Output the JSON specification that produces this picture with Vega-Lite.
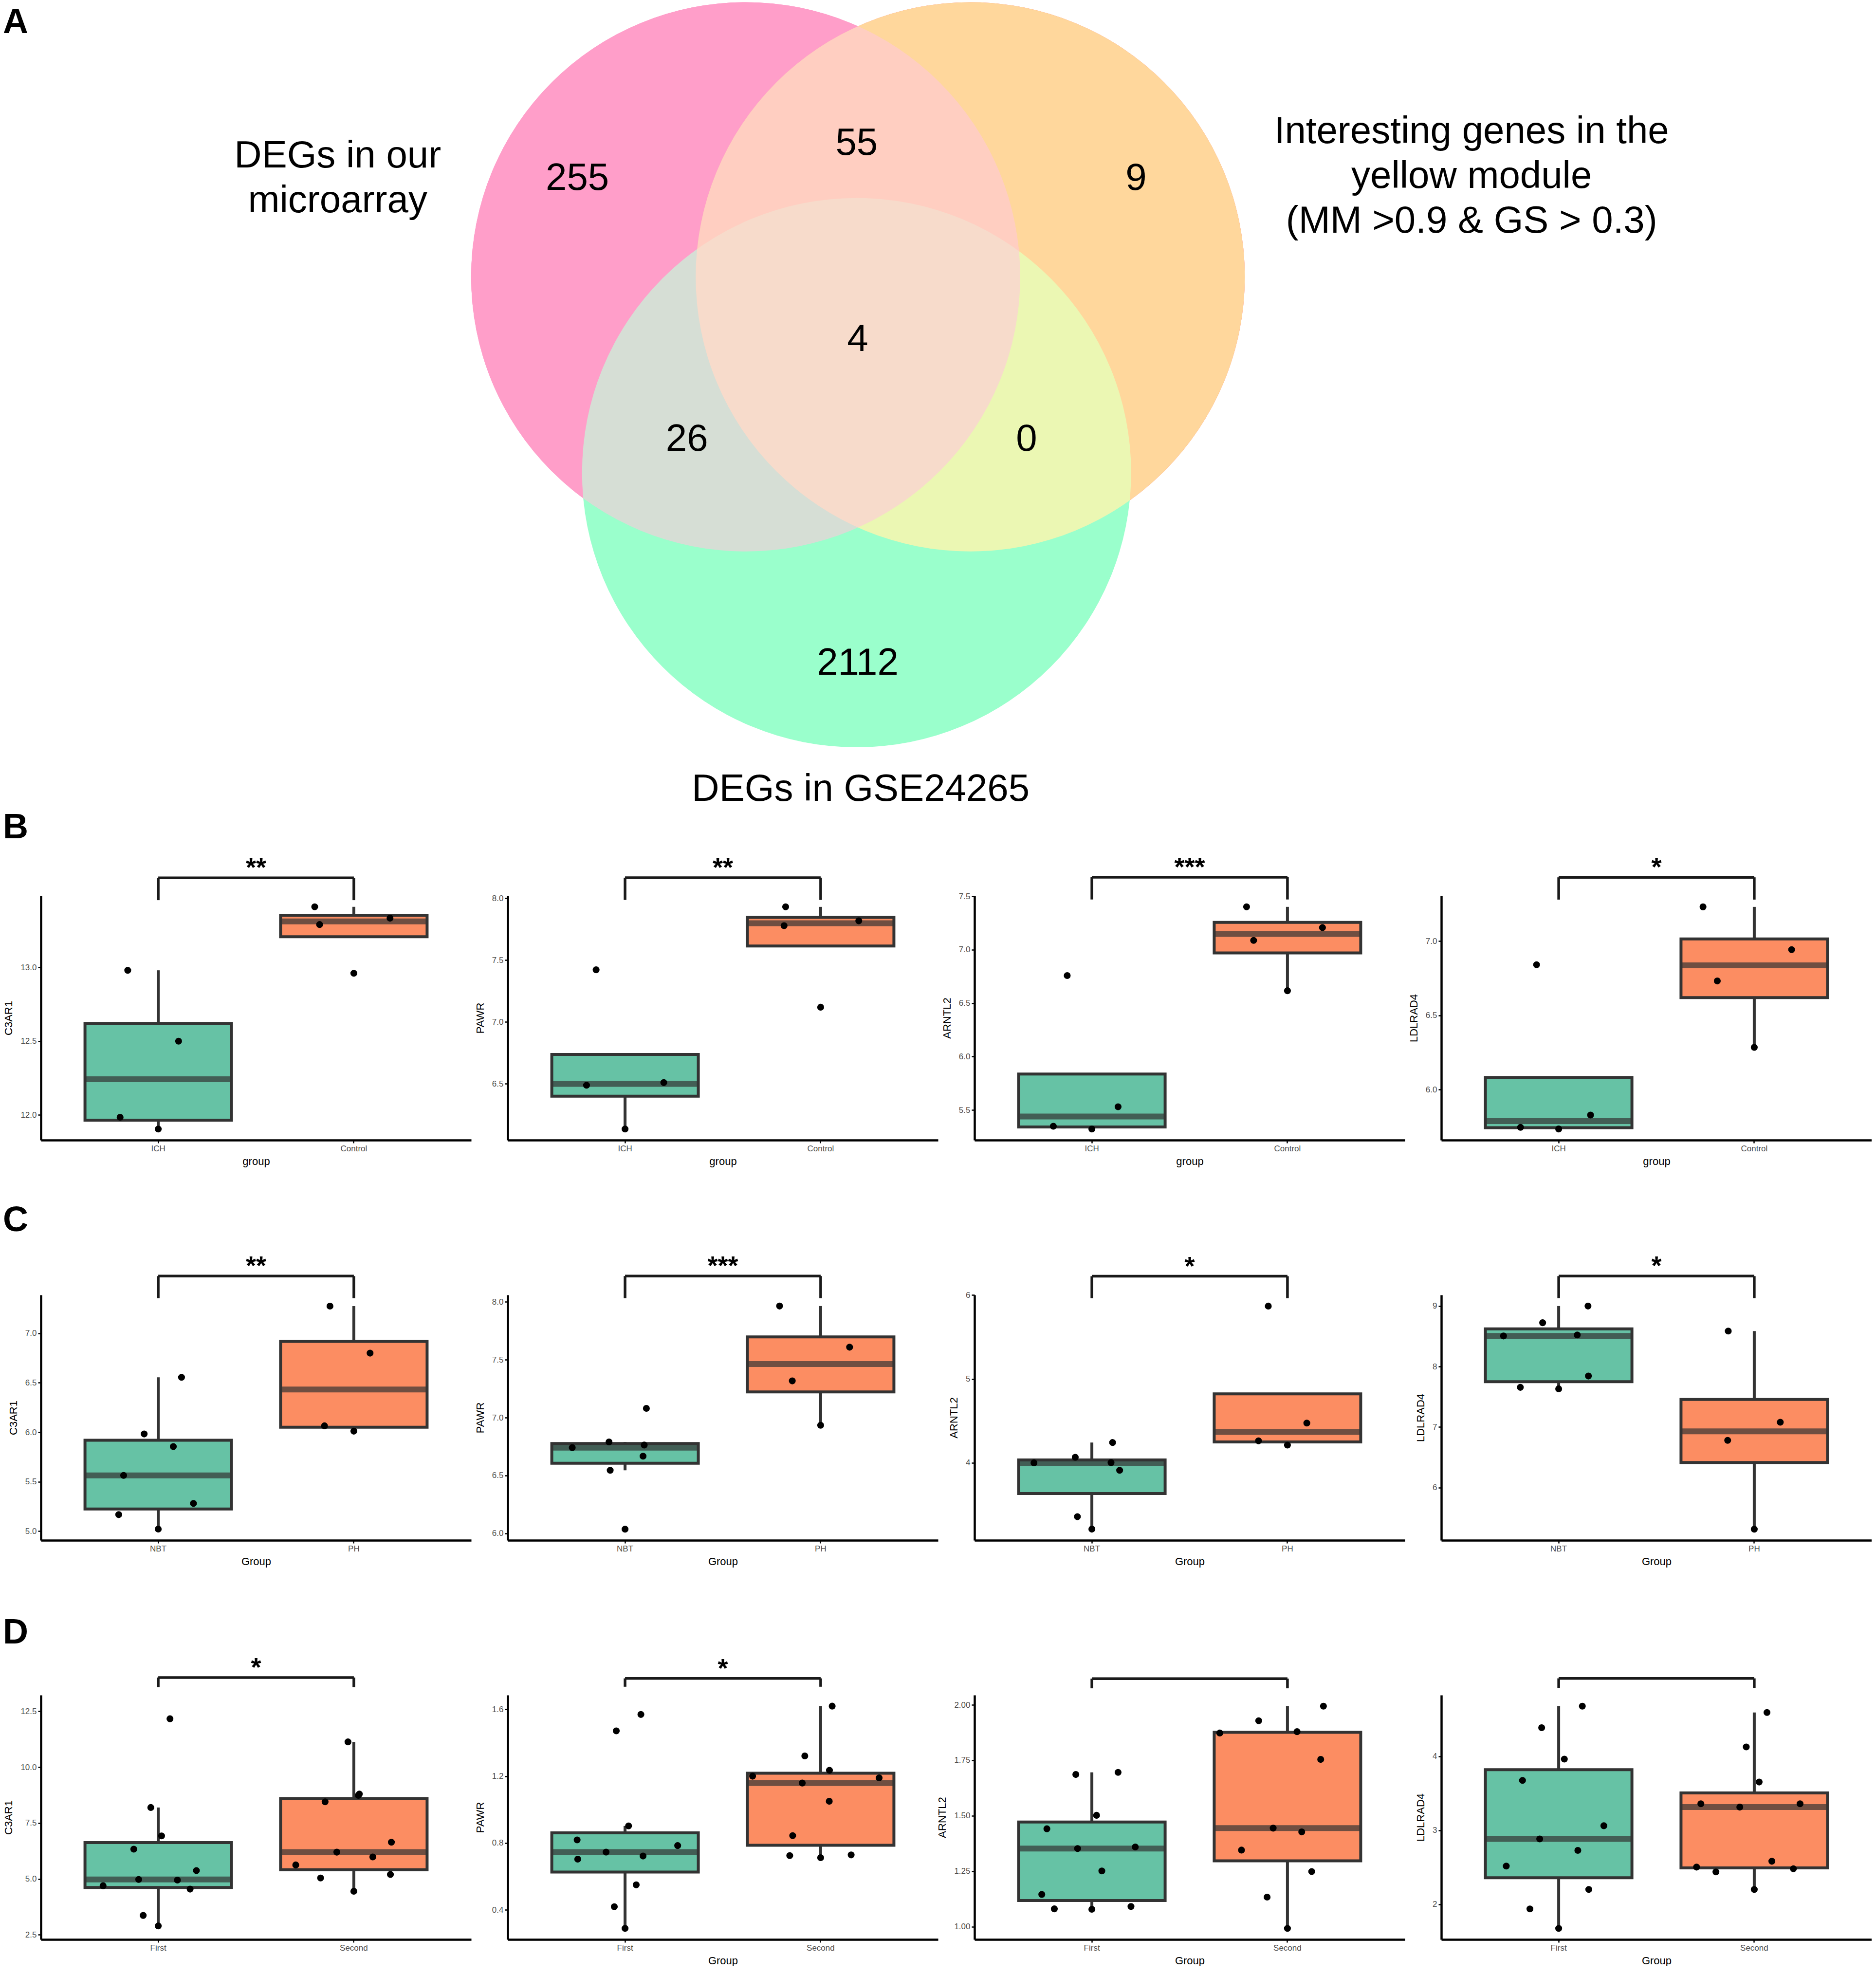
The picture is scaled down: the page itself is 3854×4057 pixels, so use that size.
{
"$schema":"https://vega.github.io/schema/vega-lite/v6.json",
"background":"white",
"padding":{"left":6,"top":0,"right":0,"bottom":0},
"config":{
 "font":"Liberation Sans",
 "view":{"stroke":null},
 "axis":{"grid":false,"domainColor":"black","domainWidth":4.5,"tickColor":"black","tickWidth":2.5,"tickSize":6,"labelColor":"#4D4D4D","labelFontSize":17,"labelPadding":3,"titleColor":"black","titleFontSize":22,"titleFontWeight":"normal"},
 "axisX":{"titlePadding":8},
 "axisY":{"titlePadding":12},
 "title":{"color":"black"}
},
"datasets":{
 "vc":[{"set":"pink","cx":-0.408,"cy":0.238},{"set":"yellow","cx":0.41,"cy":0.238},{"set":"green","cx":-0.004,"cy":-0.475}],
 "vt":[
  {"lab":"DEGs in our\nmicroarray","x":-1.894,"y":0.677},
  {"lab":"255","x":-1.021,"y":0.596},
  {"lab":"55","x":-0.004,"y":0.723},
  {"lab":"9","x":1.014,"y":0.596},
  {"lab":"4","x":0.0,"y":0.009},
  {"lab":"26","x":-0.622,"y":-0.355},
  {"lab":"0","x":0.615,"y":-0.355},
  {"lab":"2112","x":0.0,"y":-1.17},
  {"lab":"DEGs in GSE24265","x":0.011,"y":-1.63},
  {"lab":"Interesting genes in the\nyellow module\n(MM >0.9 & GS > 0.3)","x":2.236,"y":0.766}
 ],
 "pts":[
  {"p":"B1","g":"ICH","v":12.98,"j":-0.156},{"p":"B1","g":"ICH","v":12.5,"j":0.104},{"p":"B1","g":"ICH","v":11.985,"j":-0.195},{"p":"B1","g":"ICH","v":11.905,"j":0},
  {"p":"B1","g":"Control","v":13.41,"j":-0.2},{"p":"B1","g":"Control","v":13.29,"j":-0.175},{"p":"B1","g":"Control","v":13.333,"j":0.185},{"p":"B1","g":"Control","v":12.96,"j":0},
  {"p":"B2","g":"ICH","v":7.421,"j":-0.148},{"p":"B2","g":"ICH","v":6.488,"j":-0.197},{"p":"B2","g":"ICH","v":6.509,"j":0.198},{"p":"B2","g":"ICH","v":6.134,"j":0},
  {"p":"B2","g":"Control","v":7.93,"j":-0.179},{"p":"B2","g":"Control","v":7.778,"j":-0.187},{"p":"B2","g":"Control","v":7.817,"j":0.195},{"p":"B2","g":"Control","v":7.119,"j":0},
  {"p":"B3","g":"ICH","v":6.758,"j":-0.126},{"p":"B3","g":"ICH","v":5.53,"j":0.134},{"p":"B3","g":"ICH","v":5.348,"j":-0.197},{"p":"B3","g":"ICH","v":5.322,"j":0},
  {"p":"B3","g":"Control","v":7.401,"j":-0.209},{"p":"B3","g":"Control","v":7.087,"j":-0.173},{"p":"B3","g":"Control","v":7.207,"j":0.179},{"p":"B3","g":"Control","v":6.616,"j":0},
  {"p":"B4","g":"ICH","v":6.84,"j":-0.113},{"p":"B4","g":"ICH","v":5.828,"j":0.163},{"p":"B4","g":"ICH","v":5.745,"j":-0.195},{"p":"B4","g":"ICH","v":5.734,"j":0},
  {"p":"B4","g":"Control","v":7.23,"j":-0.262},{"p":"B4","g":"Control","v":6.942,"j":0.191},{"p":"B4","g":"Control","v":6.731,"j":-0.189},{"p":"B4","g":"Control","v":6.284,"j":0},
  {"p":"C1","g":"NBT","v":6.555,"j":0.119},{"p":"C1","g":"NBT","v":5.983,"j":-0.072},{"p":"C1","g":"NBT","v":5.855,"j":0.077},{"p":"C1","g":"NBT","v":5.564,"j":-0.177},{"p":"C1","g":"NBT","v":5.281,"j":0.18},{"p":"C1","g":"NBT","v":5.168,"j":-0.202},{"p":"C1","g":"NBT","v":5.022,"j":0},
  {"p":"C1","g":"PH","v":7.274,"j":-0.122},{"p":"C1","g":"PH","v":6.799,"j":0.083},{"p":"C1","g":"PH","v":6.065,"j":-0.15},{"p":"C1","g":"PH","v":6.011,"j":0},
  {"p":"C2","g":"NBT","v":7.08,"j":0.109},{"p":"C2","g":"NBT","v":6.79,"j":-0.082},{"p":"C2","g":"NBT","v":6.741,"j":-0.27},{"p":"C2","g":"NBT","v":6.763,"j":0.098},{"p":"C2","g":"NBT","v":6.667,"j":0.092},{"p":"C2","g":"NBT","v":6.545,"j":-0.076},{"p":"C2","g":"NBT","v":6.037,"j":0},
  {"p":"C2","g":"PH","v":7.963,"j":-0.21},{"p":"C2","g":"PH","v":7.608,"j":0.148},{"p":"C2","g":"PH","v":7.317,"j":-0.145},{"p":"C2","g":"PH","v":6.934,"j":0},
  {"p":"C3","g":"NBT","v":4.242,"j":0.106},{"p":"C3","g":"NBT","v":4.066,"j":-0.085},{"p":"C3","g":"NBT","v":4.0,"j":-0.296},{"p":"C3","g":"NBT","v":4.003,"j":0.098},{"p":"C3","g":"NBT","v":3.911,"j":0.142},{"p":"C3","g":"NBT","v":3.358,"j":-0.074},{"p":"C3","g":"NBT","v":3.21,"j":0},
  {"p":"C3","g":"PH","v":5.868,"j":-0.098},{"p":"C3","g":"PH","v":4.474,"j":0.099},{"p":"C3","g":"PH","v":4.262,"j":-0.148},{"p":"C3","g":"PH","v":4.211,"j":0},
  {"p":"C4","g":"NBT","v":9.0,"j":0.15},{"p":"C4","g":"NBT","v":8.724,"j":-0.082},{"p":"C4","g":"NBT","v":8.505,"j":-0.282},{"p":"C4","g":"NBT","v":8.522,"j":0.095},{"p":"C4","g":"NBT","v":7.843,"j":0.152},{"p":"C4","g":"NBT","v":7.656,"j":-0.196},{"p":"C4","g":"NBT","v":7.631,"j":0},
  {"p":"C4","g":"PH","v":8.586,"j":-0.133},{"p":"C4","g":"PH","v":7.079,"j":0.133},{"p":"C4","g":"PH","v":6.779,"j":-0.136},{"p":"C4","g":"PH","v":5.311,"j":0},
  {"p":"D1","g":"First","v":12.17,"j":0.06},{"p":"D1","g":"First","v":8.197,"j":-0.038},{"p":"D1","g":"First","v":6.926,"j":0.017},{"p":"D1","g":"First","v":6.332,"j":-0.125},{"p":"D1","g":"First","v":5.372,"j":0.195},{"p":"D1","g":"First","v":4.977,"j":-0.1},{"p":"D1","g":"First","v":4.948,"j":0.098},{"p":"D1","g":"First","v":4.694,"j":-0.282},{"p":"D1","g":"First","v":4.543,"j":0.163},{"p":"D1","g":"First","v":3.366,"j":-0.077},{"p":"D1","g":"First","v":2.896,"j":0},
  {"p":"D1","g":"Second","v":11.135,"j":-0.03},{"p":"D1","g":"Second","v":8.743,"j":0.023},{"p":"D1","g":"Second","v":8.8,"j":0.028},{"p":"D1","g":"Second","v":8.451,"j":-0.147},{"p":"D1","g":"Second","v":6.643,"j":0.192},{"p":"D1","g":"Second","v":6.2,"j":-0.087},{"p":"D1","g":"Second","v":5.984,"j":0.097},{"p":"D1","g":"Second","v":5.626,"j":-0.297},{"p":"D1","g":"Second","v":5.042,"j":-0.17},{"p":"D1","g":"Second","v":5.202,"j":0.187},{"p":"D1","g":"Second","v":4.449,"j":0},
  {"p":"D2","g":"First","v":1.569,"j":0.081},{"p":"D2","g":"First","v":1.471,"j":-0.045},{"p":"D2","g":"First","v":0.9025,"j":0.018},{"p":"D2","g":"First","v":0.819,"j":-0.245},{"p":"D2","g":"First","v":0.785,"j":0.269},{"p":"D2","g":"First","v":0.746,"j":-0.097},{"p":"D2","g":"First","v":0.7225,"j":0.092},{"p":"D2","g":"First","v":0.704,"j":-0.242},{"p":"D2","g":"First","v":0.55,"j":0.057},{"p":"D2","g":"First","v":0.419,"j":-0.055},{"p":"D2","g":"First","v":0.29,"j":0},
  {"p":"D2","g":"Second","v":1.619,"j":0.059},{"p":"D2","g":"Second","v":1.321,"j":-0.081},{"p":"D2","g":"Second","v":1.235,"j":0.045},{"p":"D2","g":"Second","v":1.2,"j":-0.348},{"p":"D2","g":"Second","v":1.19,"j":0.299},{"p":"D2","g":"Second","v":1.159,"j":-0.094},{"p":"D2","g":"Second","v":1.05,"j":0.044},{"p":"D2","g":"Second","v":0.844,"j":-0.143},{"p":"D2","g":"Second","v":0.725,"j":-0.158},{"p":"D2","g":"Second","v":0.7125,"j":0},{"p":"D2","g":"Second","v":0.729,"j":0.156},
  {"p":"D3","g":"First","v":1.6956,"j":0.134},{"p":"D3","g":"First","v":1.686,"j":-0.082},{"p":"D3","g":"First","v":1.502,"j":0.024},{"p":"D3","g":"First","v":1.441,"j":-0.23},{"p":"D3","g":"First","v":1.352,"j":-0.073},{"p":"D3","g":"First","v":1.359,"j":0.222},{"p":"D3","g":"First","v":1.251,"j":0.051},{"p":"D3","g":"First","v":1.145,"j":-0.256},{"p":"D3","g":"First","v":1.0905,"j":0.2},{"p":"D3","g":"First","v":1.08,"j":-0.192},{"p":"D3","g":"First","v":1.078,"j":0},
  {"p":"D3","g":"Second","v":1.994,"j":0.184},{"p":"D3","g":"Second","v":1.928,"j":-0.147},{"p":"D3","g":"Second","v":1.873,"j":-0.346},{"p":"D3","g":"Second","v":1.879,"j":0.049},{"p":"D3","g":"Second","v":1.754,"j":0.17},{"p":"D3","g":"Second","v":1.444,"j":-0.073},{"p":"D3","g":"Second","v":1.427,"j":0.073},{"p":"D3","g":"Second","v":1.345,"j":-0.235},{"p":"D3","g":"Second","v":1.248,"j":0.124},{"p":"D3","g":"Second","v":1.133,"j":-0.104},{"p":"D3","g":"Second","v":0.992,"j":0},
  {"p":"D4","g":"First","v":4.678,"j":0.121},{"p":"D4","g":"First","v":4.387,"j":-0.087},{"p":"D4","g":"First","v":3.963,"j":0.029},{"p":"D4","g":"First","v":3.675,"j":-0.185},{"p":"D4","g":"First","v":3.062,"j":0.231},{"p":"D4","g":"First","v":2.884,"j":-0.097},{"p":"D4","g":"First","v":2.729,"j":0.098},{"p":"D4","g":"First","v":2.517,"j":-0.268},{"p":"D4","g":"First","v":2.201,"j":0.154},{"p":"D4","g":"First","v":1.938,"j":-0.147},{"p":"D4","g":"First","v":1.675,"j":0},
  {"p":"D4","g":"Second","v":4.593,"j":0.065},{"p":"D4","g":"Second","v":4.127,"j":-0.041},{"p":"D4","g":"Second","v":3.653,"j":0.025},{"p":"D4","g":"Second","v":3.359,"j":-0.273},{"p":"D4","g":"Second","v":3.359,"j":0.234},{"p":"D4","g":"Second","v":3.314,"j":-0.074},{"p":"D4","g":"Second","v":2.582,"j":0.09},{"p":"D4","g":"Second","v":2.503,"j":-0.295},{"p":"D4","g":"Second","v":2.48,"j":0.2},{"p":"D4","g":"Second","v":2.438,"j":-0.196},{"p":"D4","g":"Second","v":2.201,"j":0}
 ],
 "sig":[
  {"p":"B1","x1":1,"x2":2,"xm":1.5,"yh":13.606,"yt":13.455,"lab":"**"},
  {"p":"B2","x1":1,"x2":2,"xm":1.5,"yh":8.166,"yt":7.986,"lab":"**"},
  {"p":"B3","x1":1,"x2":2,"xm":1.5,"yh":7.678,"yt":7.47,"lab":"***"},
  {"p":"B4","x1":1,"x2":2,"xm":1.5,"yh":7.429,"yt":7.279,"lab":"*"},
  {"p":"C1","x1":1,"x2":2,"xm":1.5,"yh":7.577,"yt":7.354,"lab":"**"},
  {"p":"C2","x1":1,"x2":2,"xm":1.5,"yh":8.222,"yt":8.031,"lab":"***"},
  {"p":"C3","x1":1,"x2":2,"xm":1.5,"yh":6.224,"yt":5.962,"lab":"*"},
  {"p":"C4","x1":1,"x2":2,"xm":1.5,"yh":9.495,"yt":9.131,"lab":"*"},
  {"p":"D1","x1":1,"x2":2,"xm":1.5,"yh":14.016,"yt":13.583,"lab":"*"},
  {"p":"D2","x1":1,"x2":2,"xm":1.5,"yh":1.785,"yt":1.735,"lab":"*"},
  {"p":"D3","x1":1,"x2":2,"xm":1.5,"yh":2.118,"yt":2.0745,"lab":""},
  {"p":"D4","x1":1,"x2":2,"xm":1.5,"yh":5.054,"yt":4.924,"lab":""}
 ]
},
"vconcat":[
 {"width":3761,"height":1544,
  "layer":[
   {"data":{"name":"vc"},"mark":{"type":"point","shape":"circle","filled":true,"opacity":1,"size":1272384,"strokeWidth":0},
    "encoding":{"x":{"field":"cx","type":"quantitative","scale":{"domain":[-2.975,3.693],"nice":false,"zero":false},"axis":null},
     "y":{"field":"cy","type":"quantitative","scale":{"domain":[-1.491,1.246],"nice":false,"zero":false},"axis":null},
     "color":{"field":"set","type":"nominal","scale":{"domain":["pink","yellow","green"],"range":["#FF5FAE","#FF5F5C","#9AFFCC"]},"legend":null}}},
   {"data":{"name":"vc"},"transform":[{"filter":"datum.set=='yellow'"}],"mark":{"type":"point","shape":"circle","filled":true,"color":"#FFF5AC","opacity":0.8,"size":1272384,"strokeWidth":0},
    "encoding":{"x":{"field":"cx","type":"quantitative","scale":{"domain":[-2.975,3.693],"nice":false,"zero":false},"axis":null},
     "y":{"field":"cy","type":"quantitative","scale":{"domain":[-1.491,1.246],"nice":false,"zero":false},"axis":null}}},
   {"data":{"name":"vc"},"transform":[{"filter":"datum.set=='pink'"}],"mark":{"type":"point","shape":"circle","filled":true,"color":"#FFC8DB","opacity":0.6,"size":1272384,"strokeWidth":0},
    "encoding":{"x":{"field":"cx","type":"quantitative","scale":{"domain":[-2.975,3.693],"nice":false,"zero":false},"axis":null},
     "y":{"field":"cy","type":"quantitative","scale":{"domain":[-1.491,1.246],"nice":false,"zero":false},"axis":null}}},
   {"data":{"name":"vt"},"mark":{"type":"text","fontSize":78,"lineBreak":"\n","lineHeight":92,"baseline":"middle","align":"center","color":"black"},
    "encoding":{"x":{"field":"x","type":"quantitative","scale":{"domain":[-2.975,3.693],"nice":false,"zero":false},"axis":null},
     "y":{"field":"y","type":"quantitative","scale":{"domain":[-1.491,1.246],"nice":false,"zero":false},"axis":null},
     "text":{"field":"lab"}}},
   {"data":{"values":[{"lab":"A","x":-3.067,"y":1.165}]},"mark":{"type":"text","fontSize":72,"fontWeight":"bold","baseline":"middle","align":"center","color":"black"},
    "encoding":{"x":{"field":"x","type":"quantitative","scale":{"domain":[-2.975,3.693],"nice":false,"zero":false},"axis":null},
     "y":{"field":"y","type":"quantitative","scale":{"domain":[-1.491,1.246],"nice":false,"zero":false},"axis":null},
     "text":{"field":"lab"}}}
  ]},
 {"concat":[
  {"width":884,"height":502,"resolve":{"scale":{"x":"independent"}},
   "title":{"text":"B","anchor":"start","frame":"group","fontSize":72,"fontWeight":"bold","align":"center","dx":-52,"offset":20},
   "layer":[
   {"data":{"name":"pts"},"transform":[{"filter":"datum.p=='B1'"}],"layer":[
    {"mark":{"type":"boxplot","extent":1.5,"outliers":false,"size":301,"box":{"stroke":"#333333","strokeWidth":6},"median":{"color":"#333333","thickness":12},"rule":{"color":"#333333","strokeWidth":6}},
     "encoding":{"x":{"field":"g","type":"nominal","scale":{"domain":["ICH","Control"],"paddingInner":0.25,"paddingOuter":0.225},"axis":{"title":"group","labelAngle":0}},
      "y":{"field":"v","type":"quantitative","scale":{"domain":[11.83,13.485],"nice":false,"zero":false},"axis":{"title":"C3AR1","values":[12,12.5,13],"format":".1f"}},
      "color":{"field":"g","type":"nominal","scale":{"domain":["ICH","Control"],"range":["#66C2A5","#FC8D62"]},"legend":null}}},
    {"mark":{"type":"point","filled":true,"color":"black","opacity":1,"size":200,"strokeWidth":0},
     "encoding":{"x":{"field":"g","type":"nominal","scale":{"domain":["ICH","Control"],"paddingInner":0.25,"paddingOuter":0.225},"axis":{"title":"group","labelAngle":0}},
      "xOffset":{"field":"j","type":"quantitative","scale":{"domain":[-0.375,0.375]}},
      "y":{"field":"v","type":"quantitative","scale":{"domain":[11.83,13.485],"nice":false,"zero":false},"axis":{"title":"C3AR1","values":[12,12.5,13],"format":".1f"}}}}]},
   {"data":{"name":"sig"},"transform":[{"filter":"datum.p=='B1'"}],
    "encoding":{"y":{"field":"yh","type":"quantitative","scale":{"domain":[11.83,13.485],"nice":false,"zero":false},"axis":{"title":"C3AR1","values":[12,12.5,13],"format":".1f"}}},
    "layer":[
     {"mark":{"type":"rule","color":"#1A1A1A","strokeWidth":5.5},"encoding":{"x":{"field":"x1","type":"quantitative","scale":{"domain":[0.4,2.6],"nice":false,"zero":false},"axis":null},"x2":{"field":"x2"}}},
     {"mark":{"type":"rule","color":"#1A1A1A","strokeWidth":5.5},"encoding":{"x":{"field":"x1","type":"quantitative","scale":{"domain":[0.4,2.6],"nice":false,"zero":false},"axis":null},"y2":{"field":"yt"}}},
     {"mark":{"type":"rule","color":"#1A1A1A","strokeWidth":5.5},"encoding":{"x":{"field":"x2","type":"quantitative","scale":{"domain":[0.4,2.6],"nice":false,"zero":false},"axis":null},"y2":{"field":"yt"}}},
     {"mark":{"type":"text","fontSize":54,"fontWeight":"bold","baseline":"alphabetic","dy":-3,"color":"black"},"encoding":{"x":{"field":"xm","type":"quantitative","scale":{"domain":[0.4,2.6],"nice":false,"zero":false},"axis":null},"text":{"field":"lab"}}}]}]},
  {"width":884,"height":502,"resolve":{"scale":{"x":"independent"}},"layer":[
   {"data":{"name":"pts"},"transform":[{"filter":"datum.p=='B2'"}],"layer":[
    {"mark":{"type":"boxplot","extent":1.5,"outliers":false,"size":301,"box":{"stroke":"#333333","strokeWidth":6},"median":{"color":"#333333","thickness":12},"rule":{"color":"#333333","strokeWidth":6}},
     "encoding":{"x":{"field":"g","type":"nominal","scale":{"domain":["ICH","Control"],"paddingInner":0.25,"paddingOuter":0.225},"axis":{"title":"group","labelAngle":0}},
      "y":{"field":"v","type":"quantitative","scale":{"domain":[6.044,8.02],"nice":false,"zero":false},"axis":{"title":"PAWR","values":[6.5,7,7.5,8],"format":".1f"}},
      "color":{"field":"g","type":"nominal","scale":{"domain":["ICH","Control"],"range":["#66C2A5","#FC8D62"]},"legend":null}}},
    {"mark":{"type":"point","filled":true,"color":"black","opacity":1,"size":200,"strokeWidth":0},
     "encoding":{"x":{"field":"g","type":"nominal","scale":{"domain":["ICH","Control"],"paddingInner":0.25,"paddingOuter":0.225},"axis":{"title":"group","labelAngle":0}},
      "xOffset":{"field":"j","type":"quantitative","scale":{"domain":[-0.375,0.375]}},
      "y":{"field":"v","type":"quantitative","scale":{"domain":[6.044,8.02],"nice":false,"zero":false},"axis":{"title":"PAWR","values":[6.5,7,7.5,8],"format":".1f"}}}}]},
   {"data":{"name":"sig"},"transform":[{"filter":"datum.p=='B2'"}],
    "encoding":{"y":{"field":"yh","type":"quantitative","scale":{"domain":[6.044,8.02],"nice":false,"zero":false},"axis":{"title":"PAWR","values":[6.5,7,7.5,8],"format":".1f"}}},
    "layer":[
     {"mark":{"type":"rule","color":"#1A1A1A","strokeWidth":5.5},"encoding":{"x":{"field":"x1","type":"quantitative","scale":{"domain":[0.4,2.6],"nice":false,"zero":false},"axis":null},"x2":{"field":"x2"}}},
     {"mark":{"type":"rule","color":"#1A1A1A","strokeWidth":5.5},"encoding":{"x":{"field":"x1","type":"quantitative","scale":{"domain":[0.4,2.6],"nice":false,"zero":false},"axis":null},"y2":{"field":"yt"}}},
     {"mark":{"type":"rule","color":"#1A1A1A","strokeWidth":5.5},"encoding":{"x":{"field":"x2","type":"quantitative","scale":{"domain":[0.4,2.6],"nice":false,"zero":false},"axis":null},"y2":{"field":"yt"}}},
     {"mark":{"type":"text","fontSize":54,"fontWeight":"bold","baseline":"alphabetic","dy":-3,"color":"black"},"encoding":{"x":{"field":"xm","type":"quantitative","scale":{"domain":[0.4,2.6],"nice":false,"zero":false},"axis":null},"text":{"field":"lab"}}}]}]},
  {"width":884,"height":502,"resolve":{"scale":{"x":"independent"}},"layer":[
   {"data":{"name":"pts"},"transform":[{"filter":"datum.p=='B3'"}],"layer":[
    {"mark":{"type":"boxplot","extent":1.5,"outliers":false,"size":301,"box":{"stroke":"#333333","strokeWidth":6},"median":{"color":"#333333","thickness":12},"rule":{"color":"#333333","strokeWidth":6}},
     "encoding":{"x":{"field":"g","type":"nominal","scale":{"domain":["ICH","Control"],"paddingInner":0.25,"paddingOuter":0.225},"axis":{"title":"group","labelAngle":0}},
      "y":{"field":"v","type":"quantitative","scale":{"domain":[5.218,7.505],"nice":false,"zero":false},"axis":{"title":"ARNTL2","values":[5.5,6,6.5,7,7.5],"format":".1f"}},
      "color":{"field":"g","type":"nominal","scale":{"domain":["ICH","Control"],"range":["#66C2A5","#FC8D62"]},"legend":null}}},
    {"mark":{"type":"point","filled":true,"color":"black","opacity":1,"size":200,"strokeWidth":0},
     "encoding":{"x":{"field":"g","type":"nominal","scale":{"domain":["ICH","Control"],"paddingInner":0.25,"paddingOuter":0.225},"axis":{"title":"group","labelAngle":0}},
      "xOffset":{"field":"j","type":"quantitative","scale":{"domain":[-0.375,0.375]}},
      "y":{"field":"v","type":"quantitative","scale":{"domain":[5.218,7.505],"nice":false,"zero":false},"axis":{"title":"ARNTL2","values":[5.5,6,6.5,7,7.5],"format":".1f"}}}}]},
   {"data":{"name":"sig"},"transform":[{"filter":"datum.p=='B3'"}],
    "encoding":{"y":{"field":"yh","type":"quantitative","scale":{"domain":[5.218,7.505],"nice":false,"zero":false},"axis":{"title":"ARNTL2","values":[5.5,6,6.5,7,7.5],"format":".1f"}}},
    "layer":[
     {"mark":{"type":"rule","color":"#1A1A1A","strokeWidth":5.5},"encoding":{"x":{"field":"x1","type":"quantitative","scale":{"domain":[0.4,2.6],"nice":false,"zero":false},"axis":null},"x2":{"field":"x2"}}},
     {"mark":{"type":"rule","color":"#1A1A1A","strokeWidth":5.5},"encoding":{"x":{"field":"x1","type":"quantitative","scale":{"domain":[0.4,2.6],"nice":false,"zero":false},"axis":null},"y2":{"field":"yt"}}},
     {"mark":{"type":"rule","color":"#1A1A1A","strokeWidth":5.5},"encoding":{"x":{"field":"x2","type":"quantitative","scale":{"domain":[0.4,2.6],"nice":false,"zero":false},"axis":null},"y2":{"field":"yt"}}},
     {"mark":{"type":"text","fontSize":54,"fontWeight":"bold","baseline":"alphabetic","dy":-3,"color":"black"},"encoding":{"x":{"field":"xm","type":"quantitative","scale":{"domain":[0.4,2.6],"nice":false,"zero":false},"axis":null},"text":{"field":"lab"}}}]}]},
  {"width":884,"height":502,"resolve":{"scale":{"x":"independent"}},"layer":[
   {"data":{"name":"pts"},"transform":[{"filter":"datum.p=='B4'"}],"layer":[
    {"mark":{"type":"boxplot","extent":1.5,"outliers":false,"size":301,"box":{"stroke":"#333333","strokeWidth":6},"median":{"color":"#333333","thickness":12},"rule":{"color":"#333333","strokeWidth":6}},
     "encoding":{"x":{"field":"g","type":"nominal","scale":{"domain":["ICH","Control"],"paddingInner":0.25,"paddingOuter":0.225},"axis":{"title":"group","labelAngle":0}},
      "y":{"field":"v","type":"quantitative","scale":{"domain":[5.659,7.305],"nice":false,"zero":false},"axis":{"title":"LDLRAD4","values":[6,6.5,7],"format":".1f"}},
      "color":{"field":"g","type":"nominal","scale":{"domain":["ICH","Control"],"range":["#66C2A5","#FC8D62"]},"legend":null}}},
    {"mark":{"type":"point","filled":true,"color":"black","opacity":1,"size":200,"strokeWidth":0},
     "encoding":{"x":{"field":"g","type":"nominal","scale":{"domain":["ICH","Control"],"paddingInner":0.25,"paddingOuter":0.225},"axis":{"title":"group","labelAngle":0}},
      "xOffset":{"field":"j","type":"quantitative","scale":{"domain":[-0.375,0.375]}},
      "y":{"field":"v","type":"quantitative","scale":{"domain":[5.659,7.305],"nice":false,"zero":false},"axis":{"title":"LDLRAD4","values":[6,6.5,7],"format":".1f"}}}}]},
   {"data":{"name":"sig"},"transform":[{"filter":"datum.p=='B4'"}],
    "encoding":{"y":{"field":"yh","type":"quantitative","scale":{"domain":[5.659,7.305],"nice":false,"zero":false},"axis":{"title":"LDLRAD4","values":[6,6.5,7],"format":".1f"}}},
    "layer":[
     {"mark":{"type":"rule","color":"#1A1A1A","strokeWidth":5.5},"encoding":{"x":{"field":"x1","type":"quantitative","scale":{"domain":[0.4,2.6],"nice":false,"zero":false},"axis":null},"x2":{"field":"x2"}}},
     {"mark":{"type":"rule","color":"#1A1A1A","strokeWidth":5.5},"encoding":{"x":{"field":"x1","type":"quantitative","scale":{"domain":[0.4,2.6],"nice":false,"zero":false},"axis":null},"y2":{"field":"yt"}}},
     {"mark":{"type":"rule","color":"#1A1A1A","strokeWidth":5.5},"encoding":{"x":{"field":"x2","type":"quantitative","scale":{"domain":[0.4,2.6],"nice":false,"zero":false},"axis":null},"y2":{"field":"yt"}}},
     {"mark":{"type":"text","fontSize":54,"fontWeight":"bold","baseline":"alphabetic","dy":-3,"color":"black"},"encoding":{"x":{"field":"xm","type":"quantitative","scale":{"domain":[0.4,2.6],"nice":false,"zero":false},"axis":null},"text":{"field":"lab"}}}]}]},
  {"width":884,"height":504,"resolve":{"scale":{"x":"independent"}},
   "title":{"text":"C","anchor":"start","frame":"group","fontSize":72,"fontWeight":"bold","align":"center","dx":-52,"offset":31},
   "layer":[
   {"data":{"name":"pts"},"transform":[{"filter":"datum.p=='C1'"}],"layer":[
    {"mark":{"type":"boxplot","extent":1.5,"outliers":false,"size":301,"box":{"stroke":"#333333","strokeWidth":6},"median":{"color":"#333333","thickness":12},"rule":{"color":"#333333","strokeWidth":6}},
     "encoding":{"x":{"field":"g","type":"nominal","scale":{"domain":["NBT","PH"],"paddingInner":0.25,"paddingOuter":0.225},"axis":{"title":"Group","labelAngle":0}},
      "y":{"field":"v","type":"quantitative","scale":{"domain":[4.909,7.387],"nice":false,"zero":false},"axis":{"title":"C3AR1","values":[5,5.5,6,6.5,7],"format":".1f"}},
      "color":{"field":"g","type":"nominal","scale":{"domain":["NBT","PH"],"range":["#66C2A5","#FC8D62"]},"legend":null}}},
    {"mark":{"type":"point","filled":true,"color":"black","opacity":1,"size":200,"strokeWidth":0},
     "encoding":{"x":{"field":"g","type":"nominal","scale":{"domain":["NBT","PH"],"paddingInner":0.25,"paddingOuter":0.225},"axis":{"title":"Group","labelAngle":0}},
      "xOffset":{"field":"j","type":"quantitative","scale":{"domain":[-0.375,0.375]}},
      "y":{"field":"v","type":"quantitative","scale":{"domain":[4.909,7.387],"nice":false,"zero":false},"axis":{"title":"C3AR1","values":[5,5.5,6,6.5,7],"format":".1f"}}}}]},
   {"data":{"name":"sig"},"transform":[{"filter":"datum.p=='C1'"}],
    "encoding":{"y":{"field":"yh","type":"quantitative","scale":{"domain":[4.909,7.387],"nice":false,"zero":false},"axis":{"title":"C3AR1","values":[5,5.5,6,6.5,7],"format":".1f"}}},
    "layer":[
     {"mark":{"type":"rule","color":"#1A1A1A","strokeWidth":5.5},"encoding":{"x":{"field":"x1","type":"quantitative","scale":{"domain":[0.4,2.6],"nice":false,"zero":false},"axis":null},"x2":{"field":"x2"}}},
     {"mark":{"type":"rule","color":"#1A1A1A","strokeWidth":5.5},"encoding":{"x":{"field":"x1","type":"quantitative","scale":{"domain":[0.4,2.6],"nice":false,"zero":false},"axis":null},"y2":{"field":"yt"}}},
     {"mark":{"type":"rule","color":"#1A1A1A","strokeWidth":5.5},"encoding":{"x":{"field":"x2","type":"quantitative","scale":{"domain":[0.4,2.6],"nice":false,"zero":false},"axis":null},"y2":{"field":"yt"}}},
     {"mark":{"type":"text","fontSize":54,"fontWeight":"bold","baseline":"alphabetic","dy":-3,"color":"black"},"encoding":{"x":{"field":"xm","type":"quantitative","scale":{"domain":[0.4,2.6],"nice":false,"zero":false},"axis":null},"text":{"field":"lab"}}}]}]},
  {"width":884,"height":504,"resolve":{"scale":{"x":"independent"}},"layer":[
   {"data":{"name":"pts"},"transform":[{"filter":"datum.p=='C2'"}],"layer":[
    {"mark":{"type":"boxplot","extent":1.5,"outliers":false,"size":301,"box":{"stroke":"#333333","strokeWidth":6},"median":{"color":"#333333","thickness":12},"rule":{"color":"#333333","strokeWidth":6}},
     "encoding":{"x":{"field":"g","type":"nominal","scale":{"domain":["NBT","PH"],"paddingInner":0.25,"paddingOuter":0.225},"axis":{"title":"Group","labelAngle":0}},
      "y":{"field":"v","type":"quantitative","scale":{"domain":[5.941,8.059],"nice":false,"zero":false},"axis":{"title":"PAWR","values":[6,6.5,7,7.5,8],"format":".1f"}},
      "color":{"field":"g","type":"nominal","scale":{"domain":["NBT","PH"],"range":["#66C2A5","#FC8D62"]},"legend":null}}},
    {"mark":{"type":"point","filled":true,"color":"black","opacity":1,"size":200,"strokeWidth":0},
     "encoding":{"x":{"field":"g","type":"nominal","scale":{"domain":["NBT","PH"],"paddingInner":0.25,"paddingOuter":0.225},"axis":{"title":"Group","labelAngle":0}},
      "xOffset":{"field":"j","type":"quantitative","scale":{"domain":[-0.375,0.375]}},
      "y":{"field":"v","type":"quantitative","scale":{"domain":[5.941,8.059],"nice":false,"zero":false},"axis":{"title":"PAWR","values":[6,6.5,7,7.5,8],"format":".1f"}}}}]},
   {"data":{"name":"sig"},"transform":[{"filter":"datum.p=='C2'"}],
    "encoding":{"y":{"field":"yh","type":"quantitative","scale":{"domain":[5.941,8.059],"nice":false,"zero":false},"axis":{"title":"PAWR","values":[6,6.5,7,7.5,8],"format":".1f"}}},
    "layer":[
     {"mark":{"type":"rule","color":"#1A1A1A","strokeWidth":5.5},"encoding":{"x":{"field":"x1","type":"quantitative","scale":{"domain":[0.4,2.6],"nice":false,"zero":false},"axis":null},"x2":{"field":"x2"}}},
     {"mark":{"type":"rule","color":"#1A1A1A","strokeWidth":5.5},"encoding":{"x":{"field":"x1","type":"quantitative","scale":{"domain":[0.4,2.6],"nice":false,"zero":false},"axis":null},"y2":{"field":"yt"}}},
     {"mark":{"type":"rule","color":"#1A1A1A","strokeWidth":5.5},"encoding":{"x":{"field":"x2","type":"quantitative","scale":{"domain":[0.4,2.6],"nice":false,"zero":false},"axis":null},"y2":{"field":"yt"}}},
     {"mark":{"type":"text","fontSize":54,"fontWeight":"bold","baseline":"alphabetic","dy":-3,"color":"black"},"encoding":{"x":{"field":"xm","type":"quantitative","scale":{"domain":[0.4,2.6],"nice":false,"zero":false},"axis":null},"text":{"field":"lab"}}}]}]},
  {"width":884,"height":504,"resolve":{"scale":{"x":"independent"}},"layer":[
   {"data":{"name":"pts"},"transform":[{"filter":"datum.p=='C3'"}],"layer":[
    {"mark":{"type":"boxplot","extent":1.5,"outliers":false,"size":301,"box":{"stroke":"#333333","strokeWidth":6},"median":{"color":"#333333","thickness":12},"rule":{"color":"#333333","strokeWidth":6}},
     "encoding":{"x":{"field":"g","type":"nominal","scale":{"domain":["NBT","PH"],"paddingInner":0.25,"paddingOuter":0.225},"axis":{"title":"Group","labelAngle":0}},
      "y":{"field":"v","type":"quantitative","scale":{"domain":[3.077,6.001],"nice":false,"zero":false},"axis":{"title":"ARNTL2","values":[4,5,6],"format":"d"}},
      "color":{"field":"g","type":"nominal","scale":{"domain":["NBT","PH"],"range":["#66C2A5","#FC8D62"]},"legend":null}}},
    {"mark":{"type":"point","filled":true,"color":"black","opacity":1,"size":200,"strokeWidth":0},
     "encoding":{"x":{"field":"g","type":"nominal","scale":{"domain":["NBT","PH"],"paddingInner":0.25,"paddingOuter":0.225},"axis":{"title":"Group","labelAngle":0}},
      "xOffset":{"field":"j","type":"quantitative","scale":{"domain":[-0.375,0.375]}},
      "y":{"field":"v","type":"quantitative","scale":{"domain":[3.077,6.001],"nice":false,"zero":false},"axis":{"title":"ARNTL2","values":[4,5,6],"format":"d"}}}}]},
   {"data":{"name":"sig"},"transform":[{"filter":"datum.p=='C3'"}],
    "encoding":{"y":{"field":"yh","type":"quantitative","scale":{"domain":[3.077,6.001],"nice":false,"zero":false},"axis":{"title":"ARNTL2","values":[4,5,6],"format":"d"}}},
    "layer":[
     {"mark":{"type":"rule","color":"#1A1A1A","strokeWidth":5.5},"encoding":{"x":{"field":"x1","type":"quantitative","scale":{"domain":[0.4,2.6],"nice":false,"zero":false},"axis":null},"x2":{"field":"x2"}}},
     {"mark":{"type":"rule","color":"#1A1A1A","strokeWidth":5.5},"encoding":{"x":{"field":"x1","type":"quantitative","scale":{"domain":[0.4,2.6],"nice":false,"zero":false},"axis":null},"y2":{"field":"yt"}}},
     {"mark":{"type":"rule","color":"#1A1A1A","strokeWidth":5.5},"encoding":{"x":{"field":"x2","type":"quantitative","scale":{"domain":[0.4,2.6],"nice":false,"zero":false},"axis":null},"y2":{"field":"yt"}}},
     {"mark":{"type":"text","fontSize":54,"fontWeight":"bold","baseline":"alphabetic","dy":-3,"color":"black"},"encoding":{"x":{"field":"xm","type":"quantitative","scale":{"domain":[0.4,2.6],"nice":false,"zero":false},"axis":null},"text":{"field":"lab"}}}]}]},
  {"width":884,"height":504,"resolve":{"scale":{"x":"independent"}},"layer":[
   {"data":{"name":"pts"},"transform":[{"filter":"datum.p=='C4'"}],"layer":[
    {"mark":{"type":"boxplot","extent":1.5,"outliers":false,"size":301,"box":{"stroke":"#333333","strokeWidth":6},"median":{"color":"#333333","thickness":12},"rule":{"color":"#333333","strokeWidth":6}},
     "encoding":{"x":{"field":"g","type":"nominal","scale":{"domain":["NBT","PH"],"paddingInner":0.25,"paddingOuter":0.225},"axis":{"title":"Group","labelAngle":0}},
      "y":{"field":"v","type":"quantitative","scale":{"domain":[5.127,9.184],"nice":false,"zero":false},"axis":{"title":"LDLRAD4","values":[6,7,8,9],"format":"d"}},
      "color":{"field":"g","type":"nominal","scale":{"domain":["NBT","PH"],"range":["#66C2A5","#FC8D62"]},"legend":null}}},
    {"mark":{"type":"point","filled":true,"color":"black","opacity":1,"size":200,"strokeWidth":0},
     "encoding":{"x":{"field":"g","type":"nominal","scale":{"domain":["NBT","PH"],"paddingInner":0.25,"paddingOuter":0.225},"axis":{"title":"Group","labelAngle":0}},
      "xOffset":{"field":"j","type":"quantitative","scale":{"domain":[-0.375,0.375]}},
      "y":{"field":"v","type":"quantitative","scale":{"domain":[5.127,9.184],"nice":false,"zero":false},"axis":{"title":"LDLRAD4","values":[6,7,8,9],"format":"d"}}}}]},
   {"data":{"name":"sig"},"transform":[{"filter":"datum.p=='C4'"}],
    "encoding":{"y":{"field":"yh","type":"quantitative","scale":{"domain":[5.127,9.184],"nice":false,"zero":false},"axis":{"title":"LDLRAD4","values":[6,7,8,9],"format":"d"}}},
    "layer":[
     {"mark":{"type":"rule","color":"#1A1A1A","strokeWidth":5.5},"encoding":{"x":{"field":"x1","type":"quantitative","scale":{"domain":[0.4,2.6],"nice":false,"zero":false},"axis":null},"x2":{"field":"x2"}}},
     {"mark":{"type":"rule","color":"#1A1A1A","strokeWidth":5.5},"encoding":{"x":{"field":"x1","type":"quantitative","scale":{"domain":[0.4,2.6],"nice":false,"zero":false},"axis":null},"y2":{"field":"yt"}}},
     {"mark":{"type":"rule","color":"#1A1A1A","strokeWidth":5.5},"encoding":{"x":{"field":"x2","type":"quantitative","scale":{"domain":[0.4,2.6],"nice":false,"zero":false},"axis":null},"y2":{"field":"yt"}}},
     {"mark":{"type":"text","fontSize":54,"fontWeight":"bold","baseline":"alphabetic","dy":-3,"color":"black"},"encoding":{"x":{"field":"xm","type":"quantitative","scale":{"domain":[0.4,2.6],"nice":false,"zero":false},"axis":null},"text":{"field":"lab"}}}]}]},
  {"width":884,"height":502,"resolve":{"scale":{"x":"independent"}},
   "title":{"text":"D","anchor":"start","frame":"group","fontSize":72,"fontWeight":"bold","align":"center","dx":-52,"offset":9},
   "layer":[
   {"data":{"name":"pts"},"transform":[{"filter":"datum.p=='D1'"}],"layer":[
    {"mark":{"type":"boxplot","extent":1.5,"outliers":false,"size":301,"box":{"stroke":"#333333","strokeWidth":6},"median":{"color":"#333333","thickness":12},"rule":{"color":"#333333","strokeWidth":6}},
     "encoding":{"x":{"field":"g","type":"nominal","scale":{"domain":["First","Second"],"paddingInner":0.25,"paddingOuter":0.225},"axis":{"title":null,"labelAngle":0}},
      "y":{"field":"v","type":"quantitative","scale":{"domain":[2.29,13.23],"nice":false,"zero":false},"axis":{"title":"C3AR1","values":[2.5,5,7.5,10,12.5],"format":".1f"}},
      "color":{"field":"g","type":"nominal","scale":{"domain":["First","Second"],"range":["#66C2A5","#FC8D62"]},"legend":null}}},
    {"mark":{"type":"point","filled":true,"color":"black","opacity":1,"size":200,"strokeWidth":0},
     "encoding":{"x":{"field":"g","type":"nominal","scale":{"domain":["First","Second"],"paddingInner":0.25,"paddingOuter":0.225},"axis":{"title":null,"labelAngle":0}},
      "xOffset":{"field":"j","type":"quantitative","scale":{"domain":[-0.375,0.375]}},
      "y":{"field":"v","type":"quantitative","scale":{"domain":[2.29,13.23],"nice":false,"zero":false},"axis":{"title":"C3AR1","values":[2.5,5,7.5,10,12.5],"format":".1f"}}}}]},
   {"data":{"name":"sig"},"transform":[{"filter":"datum.p=='D1'"}],
    "encoding":{"y":{"field":"yh","type":"quantitative","scale":{"domain":[2.29,13.23],"nice":false,"zero":false},"axis":{"title":"C3AR1","values":[2.5,5,7.5,10,12.5],"format":".1f"}}},
    "layer":[
     {"mark":{"type":"rule","color":"#1A1A1A","strokeWidth":5.5},"encoding":{"x":{"field":"x1","type":"quantitative","scale":{"domain":[0.4,2.6],"nice":false,"zero":false},"axis":null},"x2":{"field":"x2"}}},
     {"mark":{"type":"rule","color":"#1A1A1A","strokeWidth":5.5},"encoding":{"x":{"field":"x1","type":"quantitative","scale":{"domain":[0.4,2.6],"nice":false,"zero":false},"axis":null},"y2":{"field":"yt"}}},
     {"mark":{"type":"rule","color":"#1A1A1A","strokeWidth":5.5},"encoding":{"x":{"field":"x2","type":"quantitative","scale":{"domain":[0.4,2.6],"nice":false,"zero":false},"axis":null},"y2":{"field":"yt"}}},
     {"mark":{"type":"text","fontSize":54,"fontWeight":"bold","baseline":"alphabetic","dy":-3,"color":"black"},"encoding":{"x":{"field":"xm","type":"quantitative","scale":{"domain":[0.4,2.6],"nice":false,"zero":false},"axis":null},"text":{"field":"lab"}}}]}]},
  {"width":884,"height":502,"resolve":{"scale":{"x":"independent"}},"layer":[
   {"data":{"name":"pts"},"transform":[{"filter":"datum.p=='D2'"}],"layer":[
    {"mark":{"type":"boxplot","extent":1.5,"outliers":false,"size":301,"box":{"stroke":"#333333","strokeWidth":6},"median":{"color":"#333333","thickness":12},"rule":{"color":"#333333","strokeWidth":6}},
     "encoding":{"x":{"field":"g","type":"nominal","scale":{"domain":["First","Second"],"paddingInner":0.25,"paddingOuter":0.225},"axis":{"title":"Group","labelAngle":0}},
      "y":{"field":"v","type":"quantitative","scale":{"domain":[0.2235,1.685],"nice":false,"zero":false},"axis":{"title":"PAWR","values":[0.4,0.8,1.2,1.6],"format":".1f"}},
      "color":{"field":"g","type":"nominal","scale":{"domain":["First","Second"],"range":["#66C2A5","#FC8D62"]},"legend":null}}},
    {"mark":{"type":"point","filled":true,"color":"black","opacity":1,"size":200,"strokeWidth":0},
     "encoding":{"x":{"field":"g","type":"nominal","scale":{"domain":["First","Second"],"paddingInner":0.25,"paddingOuter":0.225},"axis":{"title":"Group","labelAngle":0}},
      "xOffset":{"field":"j","type":"quantitative","scale":{"domain":[-0.375,0.375]}},
      "y":{"field":"v","type":"quantitative","scale":{"domain":[0.2235,1.685],"nice":false,"zero":false},"axis":{"title":"PAWR","values":[0.4,0.8,1.2,1.6],"format":".1f"}}}}]},
   {"data":{"name":"sig"},"transform":[{"filter":"datum.p=='D2'"}],
    "encoding":{"y":{"field":"yh","type":"quantitative","scale":{"domain":[0.2235,1.685],"nice":false,"zero":false},"axis":{"title":"PAWR","values":[0.4,0.8,1.2,1.6],"format":".1f"}}},
    "layer":[
     {"mark":{"type":"rule","color":"#1A1A1A","strokeWidth":5.5},"encoding":{"x":{"field":"x1","type":"quantitative","scale":{"domain":[0.4,2.6],"nice":false,"zero":false},"axis":null},"x2":{"field":"x2"}}},
     {"mark":{"type":"rule","color":"#1A1A1A","strokeWidth":5.5},"encoding":{"x":{"field":"x1","type":"quantitative","scale":{"domain":[0.4,2.6],"nice":false,"zero":false},"axis":null},"y2":{"field":"yt"}}},
     {"mark":{"type":"rule","color":"#1A1A1A","strokeWidth":5.5},"encoding":{"x":{"field":"x2","type":"quantitative","scale":{"domain":[0.4,2.6],"nice":false,"zero":false},"axis":null},"y2":{"field":"yt"}}},
     {"mark":{"type":"text","fontSize":54,"fontWeight":"bold","baseline":"alphabetic","dy":-3,"color":"black"},"encoding":{"x":{"field":"xm","type":"quantitative","scale":{"domain":[0.4,2.6],"nice":false,"zero":false},"axis":null},"text":{"field":"lab"}}}]}]},
  {"width":884,"height":502,"resolve":{"scale":{"x":"independent"}},"layer":[
   {"data":{"name":"pts"},"transform":[{"filter":"datum.p=='D3'"}],"layer":[
    {"mark":{"type":"boxplot","extent":1.5,"outliers":false,"size":301,"box":{"stroke":"#333333","strokeWidth":6},"median":{"color":"#333333","thickness":12},"rule":{"color":"#333333","strokeWidth":6}},
     "encoding":{"x":{"field":"g","type":"nominal","scale":{"domain":["First","Second"],"paddingInner":0.25,"paddingOuter":0.225},"axis":{"title":"Group","labelAngle":0}},
      "y":{"field":"v","type":"quantitative","scale":{"domain":[0.942,2.044],"nice":false,"zero":false},"axis":{"title":"ARNTL2","values":[1,1.25,1.5,1.75,2],"format":".2f"}},
      "color":{"field":"g","type":"nominal","scale":{"domain":["First","Second"],"range":["#66C2A5","#FC8D62"]},"legend":null}}},
    {"mark":{"type":"point","filled":true,"color":"black","opacity":1,"size":200,"strokeWidth":0},
     "encoding":{"x":{"field":"g","type":"nominal","scale":{"domain":["First","Second"],"paddingInner":0.25,"paddingOuter":0.225},"axis":{"title":"Group","labelAngle":0}},
      "xOffset":{"field":"j","type":"quantitative","scale":{"domain":[-0.375,0.375]}},
      "y":{"field":"v","type":"quantitative","scale":{"domain":[0.942,2.044],"nice":false,"zero":false},"axis":{"title":"ARNTL2","values":[1,1.25,1.5,1.75,2],"format":".2f"}}}}]},
   {"data":{"name":"sig"},"transform":[{"filter":"datum.p=='D3'"}],
    "encoding":{"y":{"field":"yh","type":"quantitative","scale":{"domain":[0.942,2.044],"nice":false,"zero":false},"axis":{"title":"ARNTL2","values":[1,1.25,1.5,1.75,2],"format":".2f"}}},
    "layer":[
     {"mark":{"type":"rule","color":"#1A1A1A","strokeWidth":5.5},"encoding":{"x":{"field":"x1","type":"quantitative","scale":{"domain":[0.4,2.6],"nice":false,"zero":false},"axis":null},"x2":{"field":"x2"}}},
     {"mark":{"type":"rule","color":"#1A1A1A","strokeWidth":5.5},"encoding":{"x":{"field":"x1","type":"quantitative","scale":{"domain":[0.4,2.6],"nice":false,"zero":false},"axis":null},"y2":{"field":"yt"}}},
     {"mark":{"type":"rule","color":"#1A1A1A","strokeWidth":5.5},"encoding":{"x":{"field":"x2","type":"quantitative","scale":{"domain":[0.4,2.6],"nice":false,"zero":false},"axis":null},"y2":{"field":"yt"}}},
     {"mark":{"type":"text","fontSize":54,"fontWeight":"bold","baseline":"alphabetic","dy":-3,"color":"black"},"encoding":{"x":{"field":"xm","type":"quantitative","scale":{"domain":[0.4,2.6],"nice":false,"zero":false},"axis":null},"text":{"field":"lab"}}}]}]},
  {"width":884,"height":502,"resolve":{"scale":{"x":"independent"}},"layer":[
   {"data":{"name":"pts"},"transform":[{"filter":"datum.p=='D4'"}],"layer":[
    {"mark":{"type":"boxplot","extent":1.5,"outliers":false,"size":301,"box":{"stroke":"#333333","strokeWidth":6},"median":{"color":"#333333","thickness":12},"rule":{"color":"#333333","strokeWidth":6}},
     "encoding":{"x":{"field":"g","type":"nominal","scale":{"domain":["First","Second"],"paddingInner":0.25,"paddingOuter":0.225},"axis":{"title":"Group","labelAngle":0}},
      "y":{"field":"v","type":"quantitative","scale":{"domain":[1.525,4.828],"nice":false,"zero":false},"axis":{"title":"LDLRAD4","values":[2,3,4],"format":"d"}},
      "color":{"field":"g","type":"nominal","scale":{"domain":["First","Second"],"range":["#66C2A5","#FC8D62"]},"legend":null}}},
    {"mark":{"type":"point","filled":true,"color":"black","opacity":1,"size":200,"strokeWidth":0},
     "encoding":{"x":{"field":"g","type":"nominal","scale":{"domain":["First","Second"],"paddingInner":0.25,"paddingOuter":0.225},"axis":{"title":"Group","labelAngle":0}},
      "xOffset":{"field":"j","type":"quantitative","scale":{"domain":[-0.375,0.375]}},
      "y":{"field":"v","type":"quantitative","scale":{"domain":[1.525,4.828],"nice":false,"zero":false},"axis":{"title":"LDLRAD4","values":[2,3,4],"format":"d"}}}}]},
   {"data":{"name":"sig"},"transform":[{"filter":"datum.p=='D4'"}],
    "encoding":{"y":{"field":"yh","type":"quantitative","scale":{"domain":[1.525,4.828],"nice":false,"zero":false},"axis":{"title":"LDLRAD4","values":[2,3,4],"format":"d"}}},
    "layer":[
     {"mark":{"type":"rule","color":"#1A1A1A","strokeWidth":5.5},"encoding":{"x":{"field":"x1","type":"quantitative","scale":{"domain":[0.4,2.6],"nice":false,"zero":false},"axis":null},"x2":{"field":"x2"}}},
     {"mark":{"type":"rule","color":"#1A1A1A","strokeWidth":5.5},"encoding":{"x":{"field":"x1","type":"quantitative","scale":{"domain":[0.4,2.6],"nice":false,"zero":false},"axis":null},"y2":{"field":"yt"}}},
     {"mark":{"type":"rule","color":"#1A1A1A","strokeWidth":5.5},"encoding":{"x":{"field":"x2","type":"quantitative","scale":{"domain":[0.4,2.6],"nice":false,"zero":false},"axis":null},"y2":{"field":"yt"}}},
     {"mark":{"type":"text","fontSize":54,"fontWeight":"bold","baseline":"alphabetic","dy":-3,"color":"black"},"encoding":{"x":{"field":"xm","type":"quantitative","scale":{"domain":[0.4,2.6],"nice":false,"zero":false},"axis":null},"text":{"field":"lab"}}}]}]}
 ],"columns":4,"spacing":{"row":318,"column":75},"bounds":"flush","resolve":{"scale":{"color":"independent"}}}
],"spacing":296,"bounds":"flush","resolve":{"scale":{"color":"independent"}}
}
